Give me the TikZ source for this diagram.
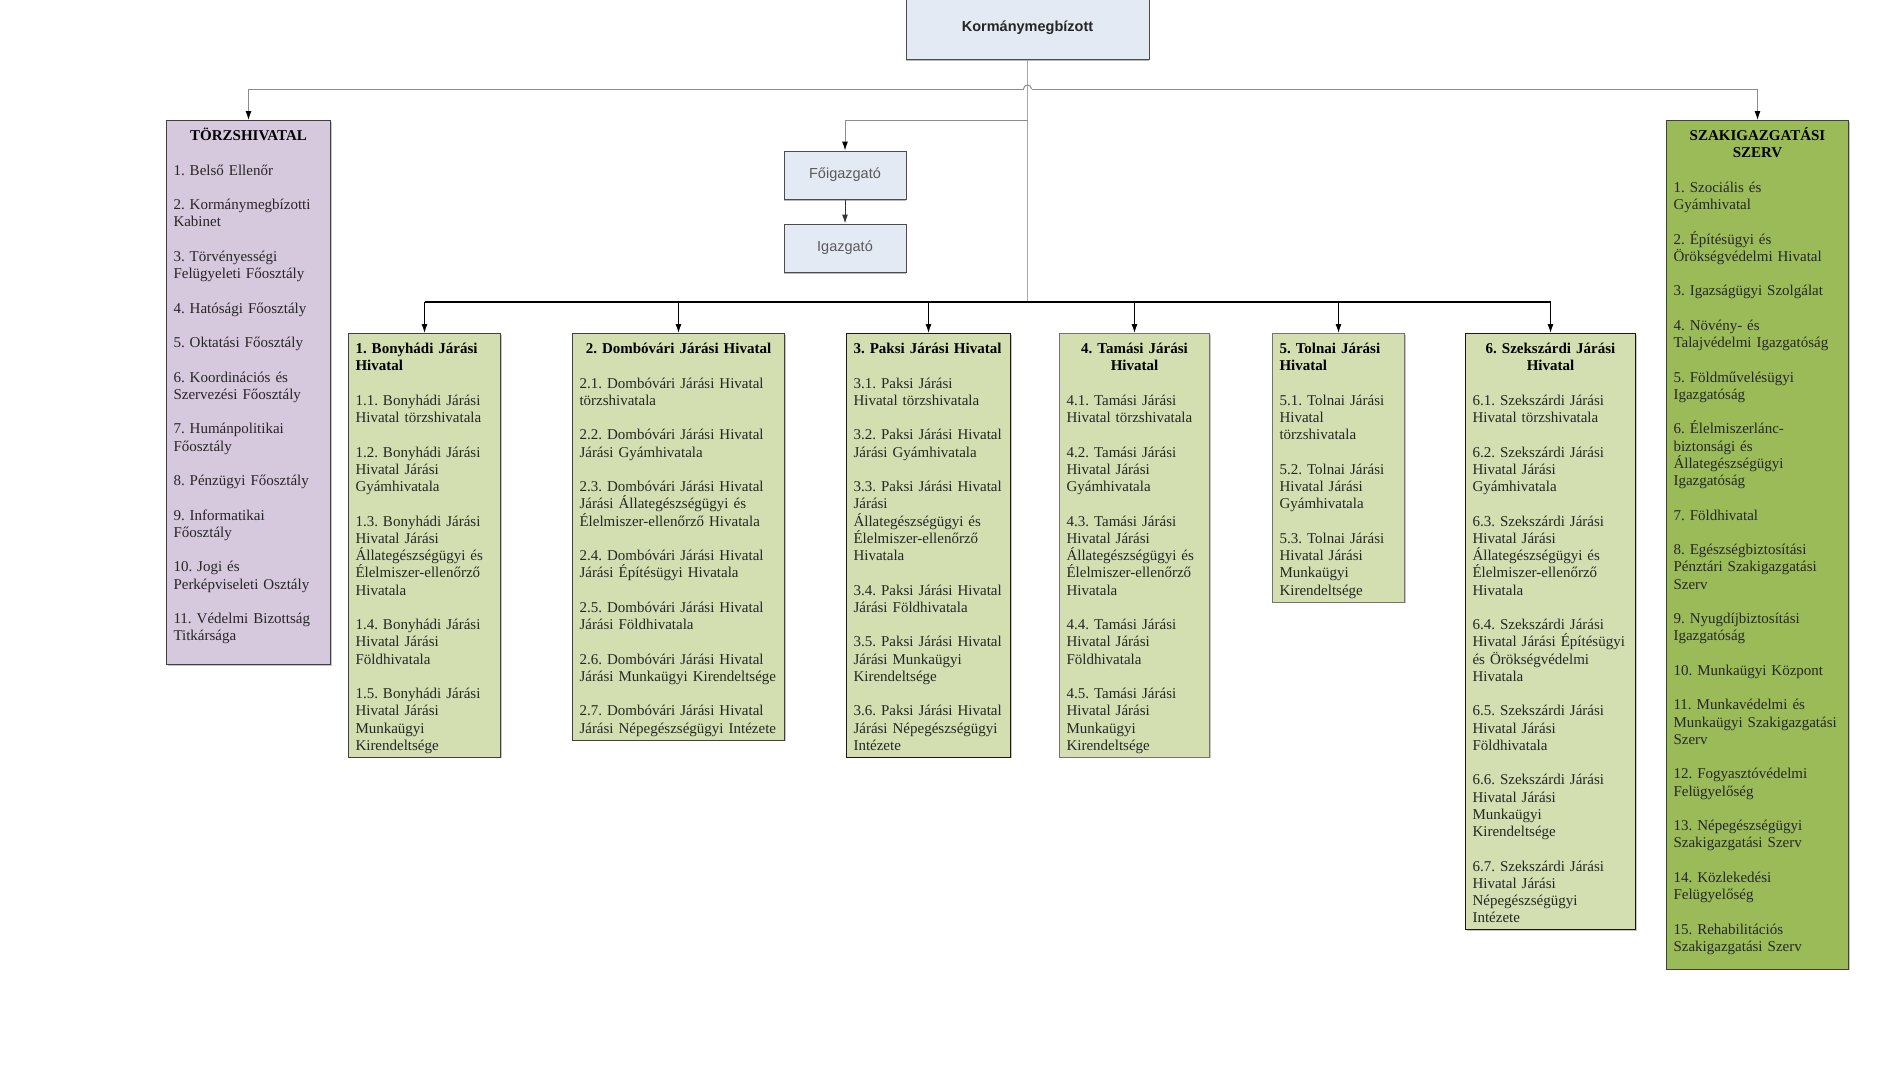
\documentclass[tikz,border=0pt]{standalone}
\usepackage{fontspec}
\setmainfont{Liberation Serif}
\newfontfamily\arialfont{Liberation Sans}
\usetikzlibrary{positioning,arrows.meta,shadows}
\definecolor{vezeto}{HTML}{E4EAF4}
\definecolor{torzsszin}{HTML}{D6C9DE}
\definecolor{szakszin}{HTML}{9BBB59}
\definecolor{jarasszin}{HTML}{D3DFB0}
\frenchspacing
\hyphenpenalty=10000
\exhyphenpenalty=10000
\begin{document}
\begin{tikzpicture}[x=1pt,y=1pt,>={Latex[length=9pt,width=6pt]},
	doboz/.style={draw=black!75,line width=1pt,anchor=north west,align=left,inner xsep=7pt,inner ysep=2pt,
		font=\fontsize{15}{17.25}\selectfont,text=black!85,
		drop shadow={shadow xshift=1.2pt,shadow yshift=-1.2pt,fill=black!45},
		execute at begin node=\rule{0pt}{18pt},execute at end node=\rule[-5pt]{0pt}{5pt}},
	jaras/.style={doboz,fill=jarasszin},
	vez/.style={draw=black!70,line width=1pt,fill=vezeto,font=\arialfont\fontsize{14.5}{17}\selectfont,text=black!65,
		minimum width=122pt,minimum height=48pt,drop shadow={shadow xshift=0pt,shadow yshift=-1.5pt,fill=black!55}},
	vonal/.style={draw=black!45,line width=1pt}]
	\path[use as bounding box,fill=white] (0,0) rectangle (1897,-1085);
	% vezetok
	\node[vez,minimum width=243pt,minimum height=62pt,font=\arialfont\bfseries\fontsize{14.5}{17}\selectfont,text=black!85] (korm) at (1027.5,-28) {Kormánymegbízott};
	\node[vez] (fo) at (845,-175) {Főigazgató};
	\node[vez,below=24pt of fo] (ig) {Igazgató};
	% oldalso dobozok
	\node[doboz,fill=torzsszin,text width=150pt] (torzs) at (166,-120) {{\centering\bfseries\color{black}TÖRZSHIVATAL\par}\vspace{17.25pt}
		1. Belső Ellenőr\\[17.25pt]
		2. Kormánymegbízotti\\Kabinet\\[17.25pt]
		3. Törvényességi\\Felügyeleti Főosztály\\[17.25pt]
		4. Hatósági Főosztály\\[17.25pt]
		5. Oktatási Főosztály\\[17.25pt]
		6. Koordinációs és\\Szervezési Főosztály\\[17.25pt]
		7. Humánpolitikai\\Főosztály\\[17.25pt]
		8. Pénzügyi Főosztály\\[17.25pt]
		9. Informatikai\\Főosztály\\[17.25pt]
		10. Jogi és\\Perképviseleti Osztály\\[17.25pt]
		11. Védelmi Bizottság\\Titkársága\rule[-22pt]{0pt}{0pt}};
	\node[doboz,fill=szakszin,text width=168pt] (szak) at (1666,-120) {{\centering\bfseries\color{black}SZAKIGAZGATÁSI\\SZERV\par}\vspace{17.25pt}
		1. Szociális és\\Gyámhivatal\\[17.25pt]
		2. Építésügyi és\\Örökségvédelmi Hivatal\\[17.25pt]
		3. Igazságügyi Szolgálat\\[17.25pt]
		4. Növény- és\\Talajvédelmi Igazgatóság\\[17.25pt]
		5. Földművelésügyi\\Igazgatóság\\[17.25pt]
		6. Élelmiszerlánc-\\biztonsági és\\Állategészségügyi\\Igazgatóság\\[17.25pt]
		7. Földhivatal\\[17.25pt]
		8. Egészségbiztosítási\\Pénztári Szakigazgatási\\Szerv\\[17.25pt]
		9. Nyugdíjbiztosítási\\Igazgatóság\\[17.25pt]
		10. Munkaügyi Központ\\[17.25pt]
		11. Munkavédelmi és\\Munkaügyi Szakigazgatási\\Szerv\\[17.25pt]
		12. Fogyasztóvédelmi\\Felügyelőség\\[17.25pt]
		13. Népegészségügyi\\Szakigazgatási Szerv\\[17.25pt]
		14. Közlekedési\\Felügyelőség\\[17.25pt]
		15. Rehabilitációs\\Szakigazgatási Szerv\rule[-16pt]{0pt}{0pt}};
	% jarasi hivatalok
	\node[jaras,text width=138pt] (j1) at (348,-333) {\textbf{\color{black}1. Bonyhádi Járási\\Hivatal}\\[17.25pt]
		1.1. Bonyhádi Járási\\Hivatal törzshivatala\\[17.25pt]
		1.2. Bonyhádi Járási\\Hivatal Járási\\Gyámhivatala\\[17.25pt]
		1.3. Bonyhádi Járási\\Hivatal Járási\\Állategészségügyi és\\Élelmiszer-ellenőrző\\Hivatala\\[17.25pt]
		1.4. Bonyhádi Járási\\Hivatal Járási\\Földhivatala\\[17.25pt]
		1.5. Bonyhádi Járási\\Hivatal Járási\\Munkaügyi\\Kirendeltsége};
	\node[jaras,text width=198pt] (j2) at (572,-333) {{\centering\bfseries\color{black}2. Dombóvári Járási Hivatal\par}\vspace{17.25pt}
		2.1. Dombóvári Járási Hivatal\\törzshivatala\\[17.25pt]
		2.2. Dombóvári Járási Hivatal\\Járási Gyámhivatala\\[17.25pt]
		2.3. Dombóvári Járási Hivatal\\Járási Állategészségügyi és\\Élelmiszer-ellenőrző Hivatala\\[17.25pt]
		2.4. Dombóvári Járási Hivatal\\Járási Építésügyi Hivatala\\[17.25pt]
		2.5. Dombóvári Járási Hivatal\\Járási Földhivatala\\[17.25pt]
		2.6. Dombóvári Járási Hivatal\\Járási Munkaügyi Kirendeltsége\\[17.25pt]
		2.7. Dombóvári Járási Hivatal\\Járási Népegészségügyi Intézete};
	\node[jaras,text width=150pt,draw=black!90] (j3) at (846,-333) {\textbf{\color{black}3. Paksi Járási Hivatal}\\[17.25pt]
		3.1. Paksi Járási\\Hivatal törzshivatala\\[17.25pt]
		3.2. Paksi Járási Hivatal\\Járási Gyámhivatala\\[17.25pt]
		3.3. Paksi Járási Hivatal\\Járási\\Állategészségügyi és\\Élelmiszer-ellenőrző\\Hivatala\\[17.25pt]
		3.4. Paksi Járási Hivatal\\Járási Földhivatala\\[17.25pt]
		3.5. Paksi Járási Hivatal\\Járási Munkaügyi\\Kirendeltsége\\[17.25pt]
		3.6. Paksi Járási Hivatal\\Járási Népegészségügyi\\Intézete};
	\node[jaras,text width=136pt,draw=black!55] (j4) at (1059,-333) {{\centering\bfseries\color{black}4. Tamási Járási\\Hivatal\par}\vspace{17.25pt}
		4.1. Tamási Járási\\Hivatal törzshivatala\\[17.25pt]
		4.2. Tamási Járási\\Hivatal Járási\\Gyámhivatala\\[17.25pt]
		4.3. Tamási Járási\\Hivatal Járási\\Állategészségügyi és\\Élelmiszer-ellenőrző\\Hivatala\\[17.25pt]
		4.4. Tamási Járási\\Hivatal Járási\\Földhivatala\\[17.25pt]
		4.5. Tamási Járási\\Hivatal Járási\\Munkaügyi\\Kirendeltsége};
	\node[jaras,text width=118pt,draw=black!55] (j5) at (1272,-333) {\textbf{\color{black}5. Tolnai Járási\\Hivatal}\\[17.25pt]
		5.1. Tolnai Járási\\Hivatal\\törzshivatala\\[17.25pt]
		5.2. Tolnai Járási\\Hivatal Járási\\Gyámhivatala\\[17.25pt]
		5.3. Tolnai Járási\\Hivatal Járási\\Munkaügyi\\Kirendeltsége};
	\node[jaras,text width=156pt,draw=black!90] (j6) at (1465,-333) {{\centering\bfseries\color{black}6. Szekszárdi Járási\\Hivatal\par}\vspace{17.25pt}
		6.1. Szekszárdi Járási\\Hivatal törzshivatala\\[17.25pt]
		6.2. Szekszárdi Járási\\Hivatal Járási\\Gyámhivatala\\[17.25pt]
		6.3. Szekszárdi Járási\\Hivatal Járási\\Állategészségügyi és\\Élelmiszer-ellenőrző\\Hivatala\\[17.25pt]
		6.4. Szekszárdi Járási\\Hivatal Járási Építésügyi\\és Örökségvédelmi\\Hivatala\\[17.25pt]
		6.5. Szekszárdi Járási\\Hivatal Járási\\Földhivatala\\[17.25pt]
		6.6. Szekszárdi Járási\\Hivatal Járási\\Munkaügyi\\Kirendeltsége\\[17.25pt]
		6.7. Szekszárdi Járási\\Hivatal Járási\\Népegészségügyi\\Intézete};
	% vonalak
	\coordinate (hop) at (korm.south |- 0,-89);
	\coordinate (agy) at (korm.south |- 0,-120);
	\coordinate (sin) at (korm.south |- 0,-302);
	\draw[draw=black!35,line width=0.8pt] (korm.south) -- (sin);
	\draw[vonal] ([xshift=-4pt]hop) arc[start angle=180,end angle=0,radius=4pt];
	\draw[vonal,-{Latex[length=9pt,width=6pt,color=black]}] ([xshift=-4pt]hop) -| (torzs.north);
	\draw[vonal,-{Latex[length=9pt,width=6pt,color=black]}] ([xshift=4pt]hop) -| (szak.north);
	\draw[vonal,-{Latex[length=9pt,width=6pt,color=black]}] (agy) -| (fo.north);
	\draw[->,line width=1pt,black!80] (fo.south) -- (ig.north);
	\draw[line width=1.6pt] (j1.north |- sin) -- (j6.north |- sin);
	\foreach \j in {j1,j2,j3,j4,j5,j6}
		\draw[->,line width=1pt] (\j.north |- sin) -- (\j.north);
\end{tikzpicture}
\end{document}
